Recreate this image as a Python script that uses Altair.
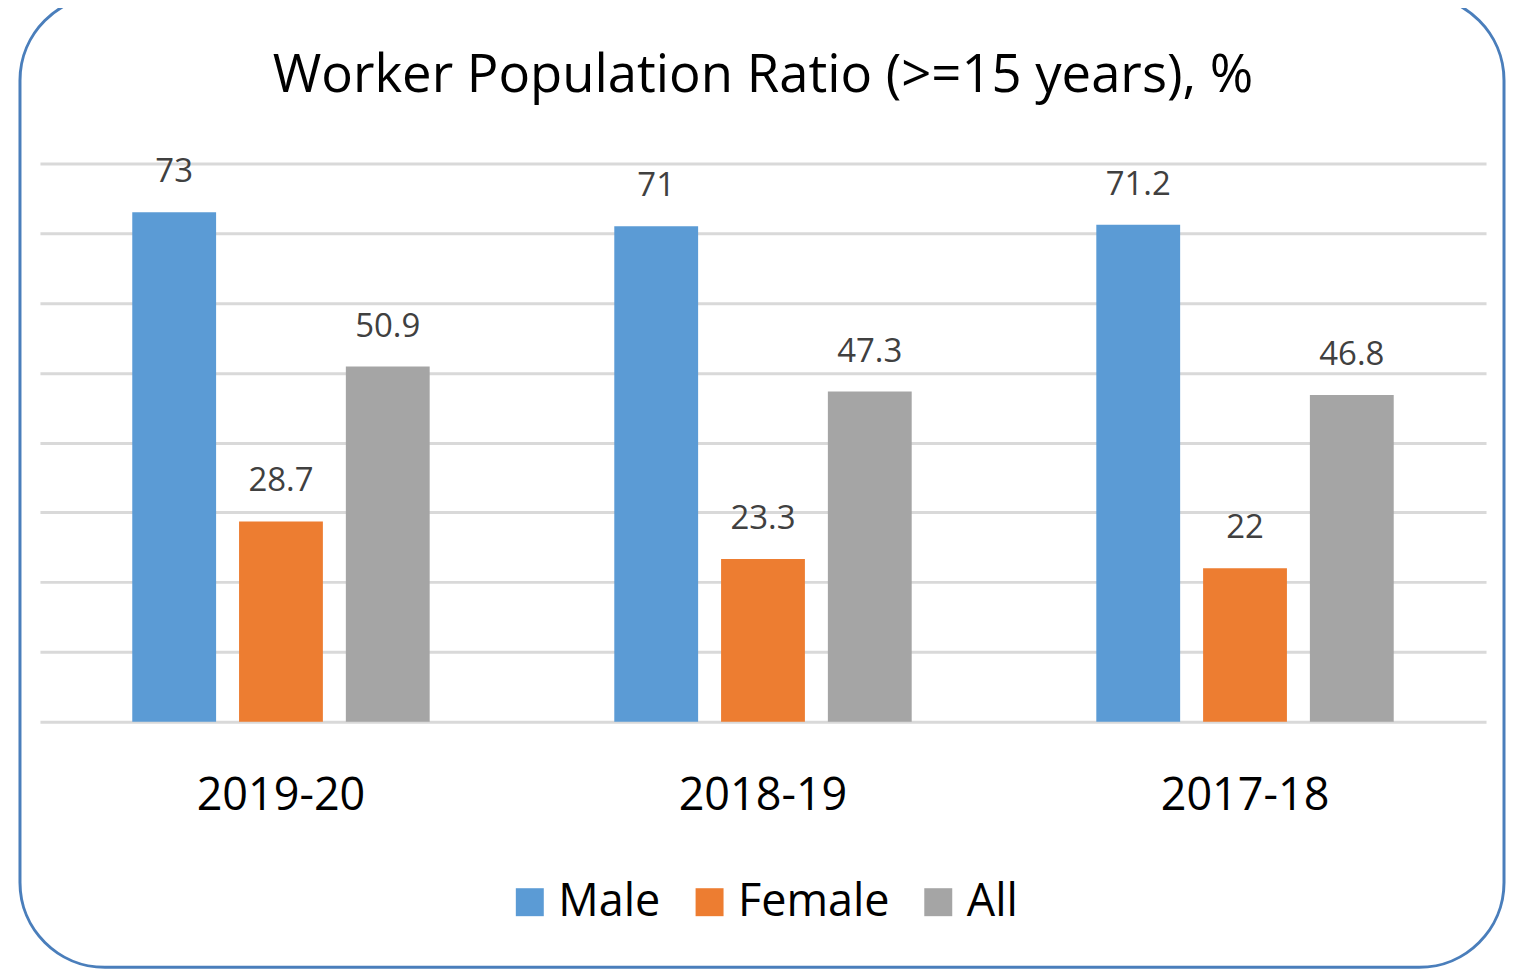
import altair as alt
import pandas as pd

years = ["2019-20", "2018-19", "2017-18"]
series = ["Male", "Female", "All"]
male = [73, 71, 71.2]
female = [28.7, 23.3, 22]
all_vals = [50.9, 47.3, 46.8]
colors = ["#5B9BD5", "#ED7D31", "#A5A5A5"]

rows = []
for s, vals in zip(series, [male, female, all_vals]):
    for y, v in zip(years, vals):
        rows.append({"year": y, "series": s, "value": v, "label": f"{v:g}"})
df = pd.DataFrame(rows)

FONT = "Open Sans"

x_enc = alt.X(
    "year:N",
    sort=years,
    scale=alt.Scale(paddingInner=0.383, paddingOuter=0.1915),
    axis=alt.Axis(
        title=None, labelAngle=0, domain=False, ticks=False, tickSize=0, grid=False,
        labelFontSize=45, labelFont=FONT, labelColor="#000000", labelPadding=52,
    ),
)
xoff = alt.XOffset("series:N", sort=series, scale=alt.Scale(paddingInner=0.215, paddingOuter=0))
y_enc = alt.Y(
    "value:Q",
    scale=alt.Scale(domain=[0, 80], nice=False),
    axis=alt.Axis(
        title=None, labels=False, domain=False, ticks=False, tickSize=0,
        values=list(range(0, 81, 10)), grid=True, gridColor="#D9D9D9", gridWidth=3,
    ),
)

bars = alt.Chart(df).mark_bar().encode(
    x=x_enc,
    xOffset=xoff,
    y=y_enc,
    color=alt.Color(
        "series:N",
        sort=series,
        scale=alt.Scale(domain=series, range=colors),
        legend=alt.Legend(
            orient="none", legendX=468, legendY=717, direction="horizontal", columns=3,
            title=None, symbolType="square", symbolSize=784, symbolStrokeWidth=0,
            labelFontSize=45, labelFont=FONT, labelColor="#000000", labelOffset=6,
            columnPadding=26, labelLimit=400, padding=0,
        ),
    ),
)

texts = alt.Chart(df).mark_text(
    dy=-30, baseline="alphabetic", align="center", fontSize=33, font=FONT, color="#404040"
).encode(x=x_enc, xOffset=xoff, y=y_enc, text="label:N")

border = alt.Chart(pd.DataFrame({"b": [0]})).mark_rect(
    fill="transparent", stroke="#4A7EBB", strokeWidth=3, cornerRadius=85
).encode(x=alt.value(-20), x2=alt.value(1466), y=alt.value(-168), y2=alt.value(805))

chart = alt.layer(bars, texts, border).properties(
    width=1448,
    height=559,
    padding={"left": 32, "top": 155, "right": 20, "bottom": 248},
    autosize=alt.AutoSizeParams(type="none"),
    background="white",
    title=alt.Title(
        "Worker Population Ratio (>=15 years), %",
        fontSize=52.7, font=FONT, fontWeight="normal", color="#000000",
        anchor="middle", baseline="alphabetic", offset=-151,
    ),
).configure_view(stroke="transparent", strokeWidth=0)

chart.save("out.html", embed_options={"renderer": "svg", "actions": False})
